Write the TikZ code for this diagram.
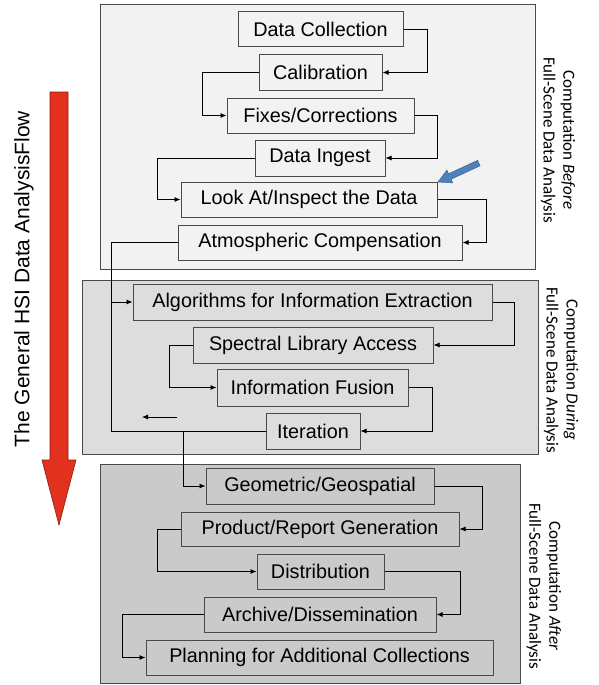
\documentclass[tikz,border=0pt]{standalone}
\usepackage{fontspec}
\setmainfont{Liberation Sans}
\newfontfamily\sidefont{Carlito}
\usetikzlibrary{arrows.meta,calc}
\definecolor{panelA}{HTML}{F2F2F2}
\definecolor{panelB}{HTML}{DDDDDD}
\definecolor{panelC}{HTML}{CACACA}
\definecolor{boxline}{HTML}{4A4A4A}
\definecolor{redarrow}{HTML}{E2311F}
\definecolor{bluearrow}{HTML}{4F81BD}
\tikzset{
  panel/.style={draw=boxline, line width=0.9pt},
  box/.style={draw=boxline, line width=1pt, inner sep=0pt, font=\fontsize{19.8}{22}\selectfont},
  conn/.style={draw=black, line width=0.8pt, -{Latex[length=6pt,width=5pt]}},
  plain/.style={draw=black, line width=0.8pt},
  sidelabel/.style={rotate=-90, align=center, font=\sidefont\fontsize{17}{20}\selectfont}
}
\begin{document}
\begin{tikzpicture}[x=1pt,y=-1pt]
\useasboundingbox (0,0) rectangle (598,685);
% panels
\path[panel, fill=panelA] (100,4) rectangle (535,269);
\path[panel, fill=panelB] (82,280) rectangle (538,454);
\path[panel, fill=panelC] (100,464) rectangle (520,683);
% side labels
\node[sidelabel] (labA) at (558,140) {Computation \textit{Before}\\Full-Scene Data Analysis};
\node[sidelabel] (labB) at (561,370) {Computation \textit{During}\\Full-Scene Data Analysis};
\node[sidelabel] (labC) at (544,586) {Computation \textit{After}\\Full-Scene Data Analysis};
% boxes: panel A
\node[box, fill=panelA, minimum width=165, minimum height=35] (dc)   at (320.5,29.5)  {Data Collection};
\node[box, fill=panelA, minimum width=123, minimum height=35] (cal)  at (320.5,72.5)  {Calibration};
\node[box, fill=panelA, minimum width=187, minimum height=35] (fix)  at (320.5,115.5) {Fixes/Corrections};
\node[box, fill=panelA, minimum width=130, minimum height=36] (ing)  at (320,158)     {Data Ingest};
\node[box, fill=panelA, minimum width=256, minimum height=35] (look) at (309,199.5)   {Look At/Inspect the Data};
\node[box, fill=panelA, minimum width=284, minimum height=35] (atm)  at (320,242.5)   {Atmospheric Compensation};
% boxes: panel B
\node[box, fill=panelB, minimum width=359, minimum height=36] (alg)  at (312.5,302)   {Algorithms for Information Extraction};
\node[box, fill=panelB, minimum width=240, minimum height=36] (spec) at (313,345)     {Spectral Library Access};
\node[box, fill=panelB, minimum width=191, minimum height=37] (fus)  at (312.5,387.5) {Information Fusion};
\node[box, fill=panelB, minimum width=94,  minimum height=36] (iter) at (313,431)     {Iteration};
% boxes: panel C
\node[box, fill=panelC, minimum width=228, minimum height=36] (geo)  at (320,486)     {Geometric/Geospatial};
\node[box, fill=panelC, minimum width=278, minimum height=34] (prod) at (320,529)     {Product/Report Generation};
\node[box, fill=panelC, minimum width=127, minimum height=35] (dist) at (320.5,571.5) {Distribution};
\node[box, fill=panelC, minimum width=232, minimum height=35] (arch) at (320,614.5)   {Archive/Dissemination};
\node[box, fill=panelC, minimum width=347, minimum height=35] (plan) at (319.5,657.5) {Planning for Additional Collections};
% connectors panel A
\draw[conn] (dc.east) -- ++(24,0) |- (cal.east);
\draw[conn] (cal.west) -- ++(-56,0) |- (fix.west);
\draw[conn] (fix.east) -- ++(23,0) |- (ing.east);
\draw[conn] (ing.west) -- ++(-97,0) |- (look.west);
\draw[conn] (look.east) -- ++(49,0) |- (atm.east);
\draw[conn] (atm.west) -- ++(-66,0) |- (alg.west);
% connectors panel B
\draw[conn] (alg.east) -- ++(22,0) |- (spec.east);
\draw[conn] (spec.west) -- ++(-23,0) |- (fus.west);
\draw[conn] (fus.east) -- ++(24,0) |- (iter.east);
\draw[plain] (iter.west) -| ($(atm.west)+(-66,0)$);
\coordinate (split) at (183,431);
\coordinate (sa) at (177,417);
\coordinate (sb) at (142,417);
\draw[conn] (sa) -- (sb);
% connectors panel C
\draw[conn] (split) |- (geo.west);
\draw[conn] (geo.east) -- ++(48,0) |- (prod.east);
\draw[conn] (prod.west) -- ++(-23,0) |- (dist.west);
\draw[conn] (dist.east) -- ++(76,0) |- (arch.east);
\draw[conn] (arch.west) -- ++(-81,0) |- (plan.west);
% blue arrow
\fill[bluearrow, draw=bluearrow!75!black, line width=0.5pt]
  (438,182) -- (452.7,182.9) -- (451.1,179.2) -- (480.1,165.8) -- (477.5,160.4)
  -- (448.5,173.8) -- (446.9,170.2) -- cycle;
% big red arrow
\fill[redarrow, draw=redarrow!60!black, line width=0.6pt]
  (50,92) -- (68,92) -- (68,460) -- (76,460) -- (59,525) -- (42,460) -- (50,460) -- cycle;
\node[rotate=90, font=\fontsize{21}{24}\selectfont] (title) at (24,279) {The General HSI Data AnalysisFlow};
\end{tikzpicture}
\end{document}
